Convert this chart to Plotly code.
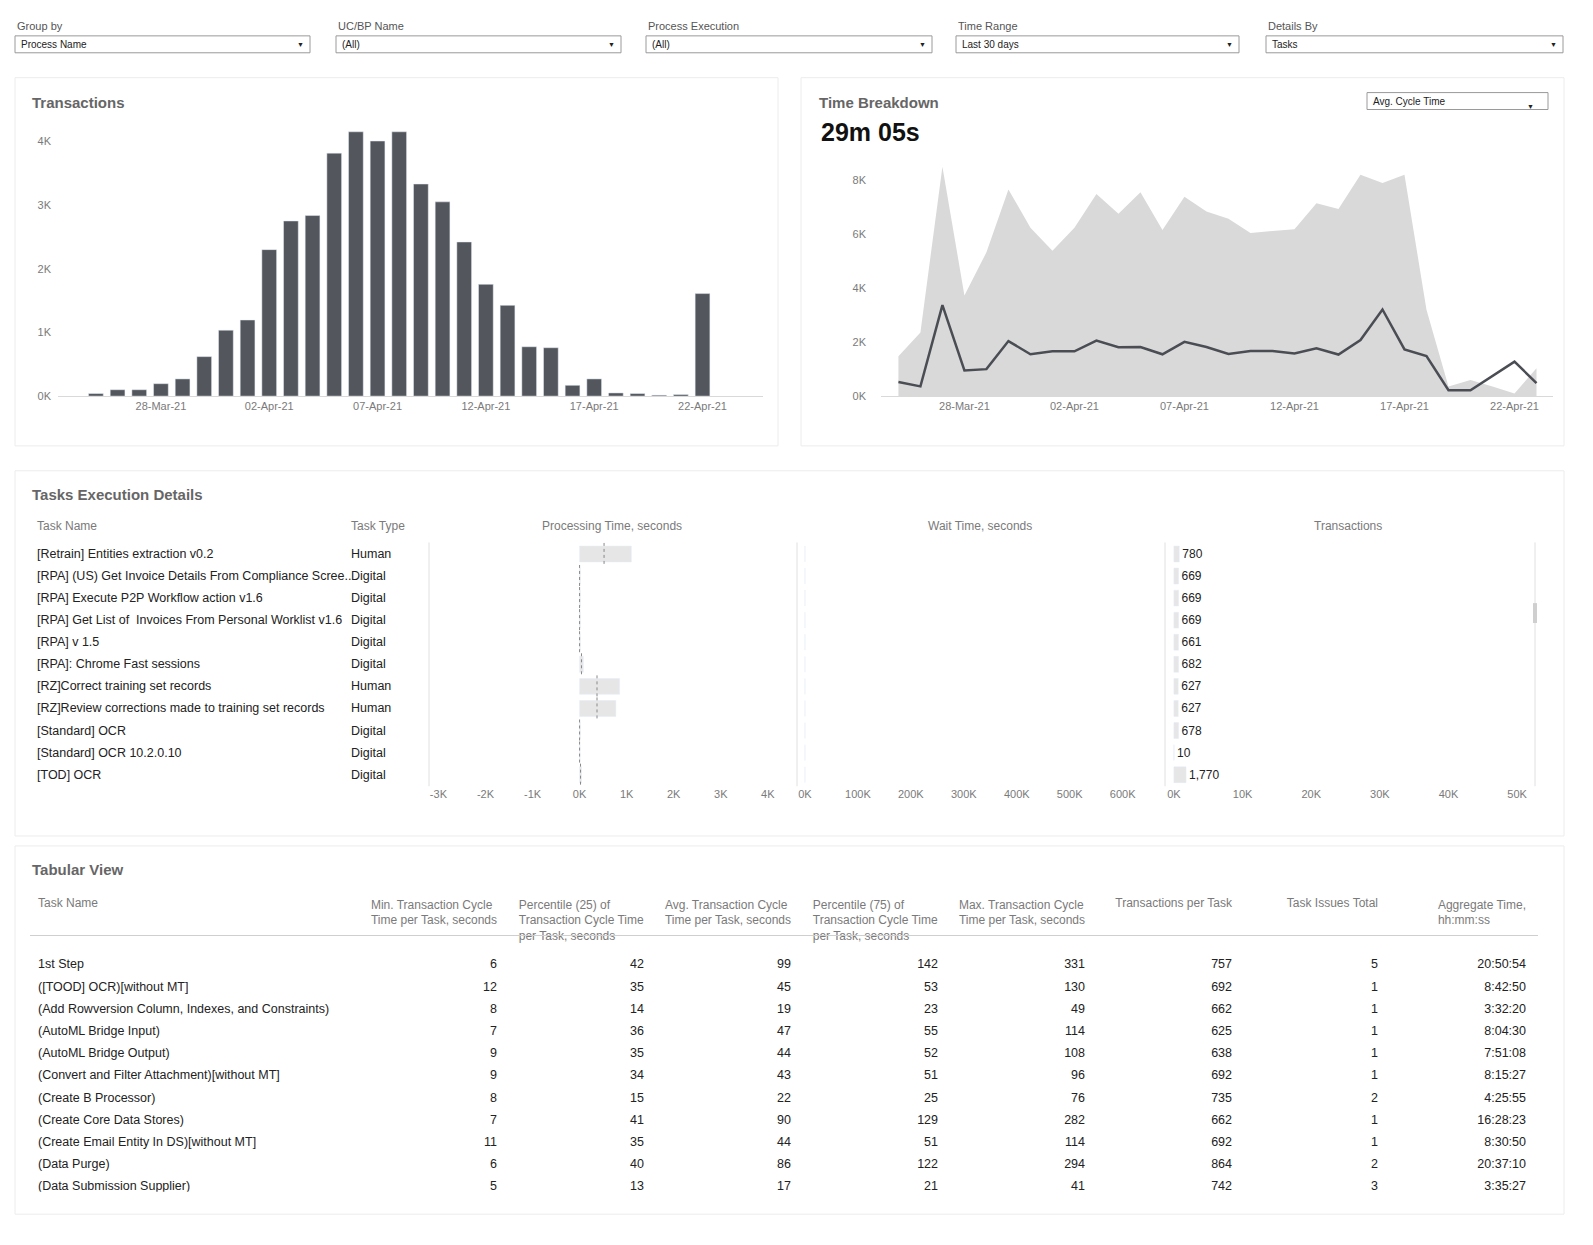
import plotly.graph_objects as go

W, H = 1593, 1245
FONT = "Liberation Sans Narrow, Liberation Sans, Arial"
GRAY = "#7a7a7a"
DARK = "#53565c"

# === Data ===
bar_dates = ["2021-03-25", "2021-03-26", "2021-03-27", "2021-03-28", "2021-03-29", "2021-03-30",
             "2021-03-31", "2021-04-01", "2021-04-02", "2021-04-03", "2021-04-04", "2021-04-05",
             "2021-04-06", "2021-04-07", "2021-04-08", "2021-04-09", "2021-04-10", "2021-04-11",
             "2021-04-12", "2021-04-13", "2021-04-14", "2021-04-15", "2021-04-16", "2021-04-17",
             "2021-04-18", "2021-04-19", "2021-04-20", "2021-04-21", "2021-04-22"]
transactions = [40, 100, 100, 195, 270, 620, 1035, 1195, 2300, 2750, 2835, 3815, 4150, 4005,
                4150, 3330, 3050, 2420, 1755, 1425, 775, 760, 170, 270, 50, 40, 15, 25, 1610]

time_dates = bar_dates + ["2021-04-23"]
time_upper = [1480, 2360, 8500, 3730, 5330, 7660, 6240, 5390, 6240, 7490, 6760, 7550, 6160, 7390,
              6840, 6570, 6040, 6120, 6180, 7150, 6930, 8200, 7900, 8200, 3200, 360, 600, 360, 100, 1030]
time_avg = [520, 360, 3370, 950, 1000, 2040, 1550, 1660, 1660, 2060, 1810, 1820, 1550, 2010,
            1820, 1560, 1670, 1670, 1580, 1770, 1540, 2080, 3210, 1730, 1480, 220, 220, 750, 1280, 480]
date_ticks = ["2021-03-28", "2021-04-02", "2021-04-07", "2021-04-12", "2021-04-17", "2021-04-22"]
date_ticktext = ["28-Mar-21", "02-Apr-21", "07-Apr-21", "12-Apr-21", "17-Apr-21", "22-Apr-21"]

task_names = ["[Retrain] Entities extraction v0.2", "[RPA] (US) Get Invoice Details From Compliance Scree..",
              "[RPA] Execute P2P Workflow action v1.6", "[RPA] Get List of  Invoices From Personal Worklist v1.6",
              "[RPA] v 1.5", "[RPA]: Chrome Fast sessions", "[RZ]Correct training set records",
              "[RZ]Review corrections made to training set records", "[Standard] OCR",
              "[Standard] OCR 10.2.0.10", "[TOD] OCR"]
task_types = ["Human", "Digital", "Digital", "Digital", "Digital", "Digital", "Human", "Human",
              "Digital", "Digital", "Digital"]
processing_time = [1100, 15, 15, 15, 15, 80, 850, 770, 15, 10, 40]
processing_ref = [520, 0, 0, 0, 0, 40, 370, 370, 0, 0, 20]
wait_time = [0] * 11
task_transactions = [780, 669, 669, 669, 661, 682, 627, 627, 678, 10, 1770]

tab_headers = ["Task Name", "Min. Transaction Cycle<br>Time per Task, seconds",
               "Percentile (25) of<br>Transaction Cycle Time<br>per Task, seconds",
               "Avg. Transaction Cycle<br>Time per Task, seconds",
               "Percentile (75) of<br>Transaction Cycle Time<br>per Task, seconds",
               "Max. Transaction Cycle<br>Time per Task, seconds", "Transactions per Task",
               "Task Issues Total", "Aggregate Time,<br>hh:mm:ss"]
tab_names = ["1st Step", "([TOOD] OCR)[without MT]", "(Add Rowversion Column, Indexes, and Constraints)",
             "(AutoML Bridge Input)", "(AutoML Bridge Output)", "(Convert and Filter Attachment)[without MT]",
             "(Create B Processor)", "(Create Core Data Stores)", "(Create Email Entity In DS)[without MT]",
             "(Data Purge)", "(Data Submission Supplier)", "(Detect Email Language)[without MT]"]
tab_min = [6, 12, 8, 7, 9, 9, 8, 7, 11, 6, 5, 8]
tab_p25 = [42, 35, 14, 36, 35, 34, 15, 41, 35, 40, 13, 36]
tab_avg = [99, 45, 19, 47, 44, 43, 22, 90, 44, 86, 17, 45]
tab_p75 = [142, 53, 23, 55, 52, 51, 25, 129, 51, 122, 21, 53]
tab_max = [331, 130, 49, 114, 108, 96, 76, 282, 114, 294, 41, 97]
tab_trans = [757, 692, 662, 625, 638, 692, 735, 662, 692, 864, 742, 692]
tab_issues = [5, 1, 1, 1, 1, 1, 2, 1, 1, 2, 3, 1]
tab_agg = ["20:50:54", "8:42:50", "3:32:20", "8:04:30", "7:51:08", "8:15:27", "4:25:55", "16:28:23",
           "8:30:50", "20:37:10", "3:35:27", "8:38:54"]

filters = ["Group by", "UC/BP Name", "Process Execution", "Time Range", "Details By"]
filter_values = ["Process Name", "(All)", "(All)", "Last 30 days", "Tasks"]


def px(x):
    return x / W


def py(y):
    return 1 - y / H


fig = go.Figure()
shapes, annos = [], []

# === Panels ===
for x0, y0, x1, y1 in [(7, 70, 770, 440), (793, 70, 1556, 440), (7, 465, 1556, 832), (7, 842, 1556, 1212)]:
    shapes.append(dict(type="rect", xref="paper", yref="paper", x0=px(x0), x1=px(x1), y0=py(y1), y1=py(y0),
                       line=dict(color="#ececec", width=1), fillcolor="white", layer="below"))

# === Filters ===
fx = [(7, 302), (328, 613), (638, 924), (948, 1231), (1258, 1555)]
for (x0, x1), lab, val in zip(fx, filters, filter_values):
    annos.append(dict(text=lab, x=px(x0), y=py(18), xref="paper", yref="paper", xanchor="left",
                      yanchor="middle", showarrow=False, font=dict(size=11, color="#555")))
    shapes.append(dict(type="rect", xref="paper", yref="paper", x0=px(x0), x1=px(x1), y0=py(45), y1=py(28),
                       line=dict(color="#9a9a9a", width=1), fillcolor="white"))
    annos.append(dict(text=val, x=px(x0 + 4), y=py(36.5), xref="paper", yref="paper", xanchor="left",
                      yanchor="middle", showarrow=False, font=dict(size=10, color="#222")))
    annos.append(dict(text="▼", x=px(x1 - 10), y=py(36.5), xref="paper", yref="paper", xanchor="center",
                      yanchor="middle", showarrow=False, font=dict(size=7, color="#222")))

# dropdown in time breakdown
shapes.append(dict(type="rect", xref="paper", yref="paper", x0=px(1359), x1=px(1540), y0=py(102), y1=py(85),
                   line=dict(color="#9a9a9a", width=1), fillcolor="white"))
annos.append(dict(text="Avg. Cycle Time", x=px(1363), y=py(93.5), xref="paper", yref="paper", xanchor="left",
                  yanchor="middle", showarrow=False, font=dict(size=10, color="#222")))
annos.append(dict(text="▼", x=px(1528), y=py(93.5), xref="paper", yref="paper", showarrow=False,
                  font=dict(size=7, color="#222")))

# === Titles ===
for t, x, y in [("Transactions", 22, 95), ("Time Breakdown", 809, 95), ("Tasks Execution Details", 22, 489),
                ("Tabular View", 22, 866)]:
    annos.append(dict(text="<b>" + t + "</b>", x=px(x), y=py(y), xref="paper", yref="paper", xanchor="left",
                      yanchor="middle", showarrow=False, font=dict(size=15, color="#666")))
annos.append(dict(text="<b>29m 05s</b>", x=px(811), y=py(125), xref="paper", yref="paper", xanchor="left",
                  yanchor="middle", showarrow=False, font=dict(size=25, color="#111", family="Liberation Sans")))

# === Transactions bars ===
fig.add_trace(go.Bar(x=bar_dates, y=transactions, marker_color=DARK, width=0.68 * 86400000,
                     xaxis="x", yaxis="y", showlegend=False))

# === Time breakdown ===
fig.add_trace(go.Scatter(x=time_dates, y=time_upper, fill="tozeroy", mode="none", fillcolor="#d9d9d9",
                         xaxis="x2", yaxis="y2", showlegend=False))
fig.add_trace(go.Scatter(x=time_dates, y=time_avg, mode="lines", line=dict(color="#4a4d53", width=2.5),
                         xaxis="x2", yaxis="y2", showlegend=False))

# === Tasks execution details ===
fig.add_trace(go.Bar(y=task_names, x=processing_time, orientation="h", marker_color="#e6e6e6", width=0.72,
                     xaxis="x3", yaxis="y3", showlegend=False))
fig.add_trace(go.Bar(y=task_names, x=wait_time, orientation="h", marker_color="#e6e6e6", width=0.72,
                     xaxis="x4", yaxis="y3", showlegend=False))
fig.add_trace(go.Bar(y=task_names, x=task_transactions, orientation="h", marker_color="#e6e6e6", width=0.72,
                     text=[f"{v:,}" for v in task_transactions], textposition="outside",
                     textfont=dict(size=12, color="#222"), cliponaxis=False,
                     xaxis="x5", yaxis="y3", showlegend=False))
for i, v in enumerate(processing_ref):
    shapes.append(dict(type="line", xref="x3", yref="y3", x0=v, x1=v, y0=i - 0.5, y1=i + 0.5,
                       line=dict(color="#888", width=1, dash="dot")))
for i, (n, t) in enumerate(zip(task_names, task_types)):
    annos.append(dict(text=n, x=px(27), y=n, xref="paper", yref="y3", xanchor="left", showarrow=False,
                      font=dict(size=12.5, color="#222")))
    annos.append(dict(text=t, x=px(341), y=n, xref="paper", yref="y3", xanchor="left", showarrow=False,
                      font=dict(size=12.5, color="#222")))
for t, x, anc in [("Task Name", 27, "left"), ("Task Type", 341, "left"), ("Processing Time, seconds", 604, "center"),
                  ("Wait Time, seconds", 972, "center"), ("Transactions", 1340, "center")]:
    annos.append(dict(text=t, x=px(x), y=py(521), xref="paper", yref="paper", xanchor=anc, showarrow=False,
                      font=dict(size=12, color=GRAY)))
for xl in [421, 789, 1157, 1527]:
    shapes.append(dict(type="line", xref="paper", yref="paper", x0=px(xl), x1=px(xl), y0=py(782), y1=py(537),
                       line=dict(color="#e0e0e0", width=1)))
shapes.append(dict(type="line", xref="paper", yref="paper", x0=px(1527), x1=px(1527), y0=py(618), y1=py(598),
                   line=dict(color="#cfcfcf", width=4)))

# === Tabular view ===
cols = [tab_names, tab_min, tab_p25, tab_avg, tab_p75, tab_max, tab_trans, tab_issues, tab_agg]
fig.add_trace(go.Table(
    domain=dict(x=[px(22), px(1526)], y=[py(1190), py(886)]),
    columnwidth=[323, 152, 147, 147, 147, 147, 147, 146, 148],
    header=dict(values=tab_headers, align=["left"] + ["right"] * 8, height=46,
                font=dict(size=12, color=GRAY, family=FONT), fill_color="white", line_color="white"),
    cells=dict(values=cols, align=["left"] + ["right"] * 8, height=22.2,
               font=dict(size=12.5, color="#222", family=FONT), fill_color="white", line_color="white"),
))
shapes.append(dict(type="line", xref="paper", yref="paper", x0=px(22), x1=px(1530), y0=py(932), y1=py(932),
                   line=dict(color="#cfcfcf", width=1)))

axis_common = dict(showgrid=False, zeroline=False, tickfont=dict(size=11, color=GRAY), ticks="")
fig.update_layout(
    width=W, height=H, margin=dict(l=0, r=0, t=0, b=0), paper_bgcolor="white", plot_bgcolor="rgba(0,0,0,0)",
    font=dict(family=FONT), bargap=0.3,
    xaxis=dict(domain=[px(50), px(755)], anchor="y", type="date",
               range=["2021-03-23 06:00", "2021-04-24 19:00"], tickvals=date_ticks, ticktext=date_ticktext,
               showline=True, linecolor="#d9d9d9", **axis_common),
    yaxis=dict(domain=[py(390), py(110)], anchor="x", range=[0, 4375], tickvals=[0, 1000, 2000, 3000, 4000],
               ticktext=["0K", "1K", "2K", "3K", "4K"], ticklabelstandoff=6, **axis_common),
    xaxis2=dict(domain=[px(873), px(1545)], anchor="y2", type="date",
                range=["2021-03-24 05:00", "2021-04-23 18:00"], tickvals=date_ticks, ticktext=date_ticktext,
                showline=True, linecolor="#d9d9d9", **axis_common),
    yaxis2=dict(domain=[py(390), py(150)], anchor="x2", range=[0, 8850],
                tickvals=[0, 2000, 4000, 6000, 8000], ticktext=["0K", "2K", "4K", "6K", "8K"],
                ticklabelstandoff=14, **axis_common),
    yaxis3=dict(domain=[py(782), py(537)], anchor="x3", type="category", autorange="reversed",
                showticklabels=False, showgrid=False, zeroline=False),
    xaxis3=dict(domain=[px(421), px(789)], anchor="y3", range=[-3200, 4620],
                tickvals=[-3000, -2000, -1000, 0, 1000, 2000, 3000, 4000],
                ticktext=["-3K", "-2K", "-1K", "0K", "1K", "2K", "3K", "4K"], **axis_common),
    xaxis4=dict(domain=[px(789), px(1157)], anchor="y3", range=[-15000, 680000],
                tickvals=[0, 100000, 200000, 300000, 400000, 500000, 600000],
                ticktext=["0K", "100K", "200K", "300K", "400K", "500K", "600K"], **axis_common),
    xaxis5=dict(domain=[px(1157), px(1527)], anchor="y3", range=[-1300, 52600],
                tickvals=[0, 10000, 20000, 30000, 40000, 50000],
                ticktext=["0K", "10K", "20K", "30K", "40K", "50K"], **axis_common),
    shapes=shapes, annotations=annos,
)

fig.write_html("out.html")
